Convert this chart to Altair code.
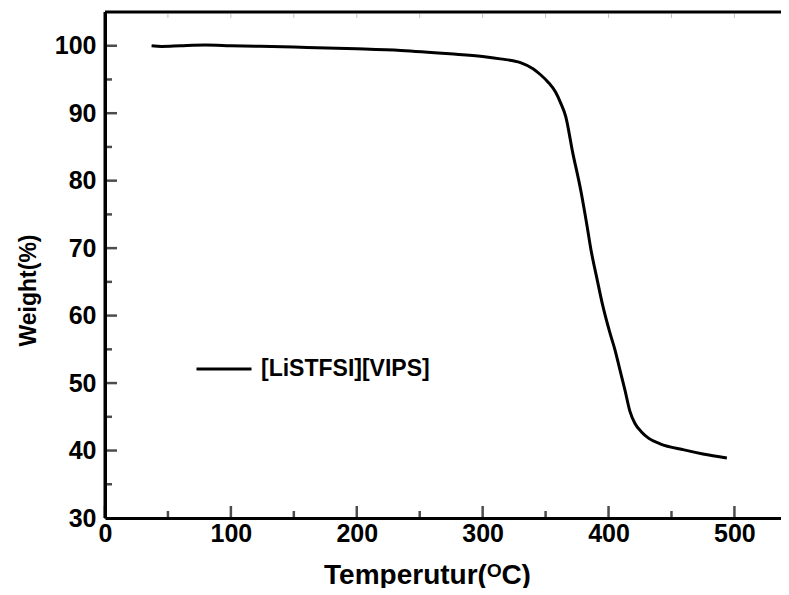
import altair as alt
import pandas as pd

# --- data ---
temperature = [37, 45, 60, 80, 100, 150, 200, 235, 274, 300, 314, 330, 340, 346, 352, 358,
               362, 366, 371.5, 378, 383, 386, 391, 395, 401, 405, 409, 413, 417, 421,
               426, 432, 441, 460, 475, 494]
weight = [100.0, 99.9, 100.0, 100.1, 100.0, 99.8, 99.55, 99.3, 98.8, 98.4, 98.05, 97.5,
          96.6, 95.7, 94.6, 93.1, 91.5, 89.5, 84.2, 78.5, 73.2, 69.8, 65.3, 61.8, 57.5,
          55.0, 52.0, 49.0, 45.8, 44.0, 42.8, 41.8, 41.0, 40.1, 39.5, 38.9]
series_name = "[LiSTFSI][VIPS]"

x_major = [0, 100, 200, 300, 400, 500]
x_minor = [50, 150, 250, 350, 450]
x_top = [0, 50, 100, 150, 200, 250, 300, 350, 400, 450, 500]
y_major = [40, 50, 60, 70, 80, 90, 100]
y_minor = [35, 45, 55, 65, 75, 85, 95]
x_min_val, y_max_val = 0, 105

FONT = "Liberation Sans"
W, H = 676, 506

curve = pd.DataFrame({"T": temperature, "W": weight, "series": series_name})
xs = alt.Scale(domain=[0, 537], nice=False, zero=False)
ys = alt.Scale(domain=[30, 105], nice=False, zero=False)

x_axis = alt.Axis(
    title="Temperutur(ᴼC)", values=x_major, labelPadding=3, labelFlush=False,
    labelFont=FONT, labelFontSize=25, labelFontWeight="bold", labelColor="black",
    domainColor="black", domainWidth=3,
    titleFont=FONT, titleFontWeight="bold", titleColor="black",
    titleFontSize=28, titleX=322, titleY=57, titleBaseline="middle")
y_axis = alt.Axis(
    title="Weight(%)", values=[30] + y_major, labelPadding=9,
    labelFont=FONT, labelFontSize=25, labelFontWeight="bold", labelColor="black",
    domainColor="black", domainWidth=3,
    titleFont=FONT, titleFontWeight="bold", titleColor="black",
    titleFontSize=23, titleX=-77, titleY=278, titleBaseline="middle", titleAlign="center")

line = alt.Chart(curve).mark_line(strokeWidth=3, interpolate="monotone", color="black").encode(
    x=alt.X("T:Q", scale=xs, axis=x_axis),
    y=alt.Y("W:Q", scale=ys, axis=y_axis),
    color=alt.Color("series:N", scale=alt.Scale(range=["black"]), legend=alt.Legend(
        orient="none", legendX=90, legendY=328, title=None, padding=0,
        symbolType="stroke", symbolSize=3025, symbolStrokeWidth=3, symbolStrokeColor="black",
        labelFont=FONT, labelFontSize=23, labelFontWeight="bold", labelColor="black",
        labelOffset=8, labelLimit=0)),
)

ymaj = alt.Chart(pd.DataFrame({"v": y_major})).mark_tick(
    orient="horizontal", color="black", thickness=2.5, size=12).encode(
    y=alt.Y("v:Q", scale=ys, axis=y_axis), x=alt.value(6))
ymin = alt.Chart(pd.DataFrame({"v": y_minor})).mark_tick(
    orient="horizontal", color="black", thickness=2.5, size=7).encode(
    y=alt.Y("v:Q", scale=ys, axis=y_axis), x=alt.value(3.5))
xmaj = alt.Chart(pd.DataFrame({"v": x_major})).mark_tick(
    orient="vertical", color="black", thickness=2.5, size=12).encode(
    x=alt.X("v:Q", scale=xs, axis=x_axis), y=alt.value(H - 6))
xmin = alt.Chart(pd.DataFrame({"v": x_minor})).mark_tick(
    orient="vertical", color="black", thickness=2.5, size=7).encode(
    x=alt.X("v:Q", scale=xs, axis=x_axis), y=alt.value(H - 3.5))
top = alt.Chart(pd.DataFrame({"v": x_top})).mark_tick(
    orient="vertical", color="#aaaaaa", thickness=1, size=4).encode(
    x=alt.X("v:Q", scale=xs, axis=x_axis), y=alt.value(4))

# frame lines (left and top) drawn from the axis limits
left_rule = alt.Chart(pd.DataFrame({"v": [x_min_val]})).mark_rule(
    color="black", strokeWidth=3).encode(x=alt.X("v:Q", scale=xs, axis=x_axis))
top_rule = alt.Chart(pd.DataFrame({"v": [y_max_val]})).mark_rule(
    color="black", strokeWidth=3).encode(y=alt.Y("v:Q", scale=ys, axis=y_axis))

chart = alt.layer(line, ymaj, ymin, xmaj, xmin, top, left_rule, top_rule).properties(
    width=W, height=H,
    autosize=alt.AutoSizeParams(type="none"),
    padding={"left": 97, "top": 4, "right": 0, "bottom": 70},
).configure_view(stroke=None).configure(background="white").configure_axis(
    ticks=False, grid=False)

chart.save("out.html", embed_options={"renderer": "svg", "actions": False})
